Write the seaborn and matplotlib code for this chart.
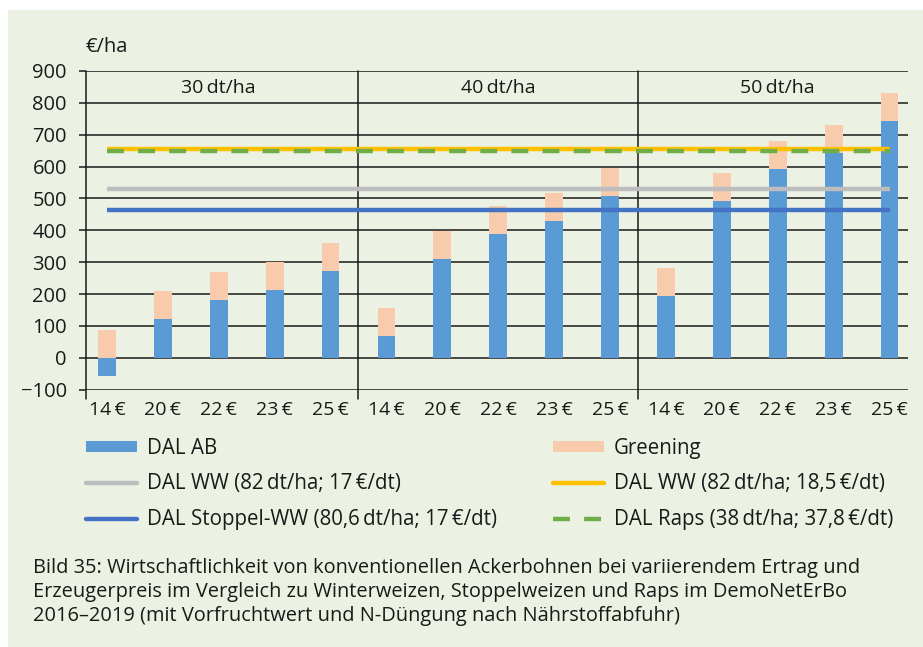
import matplotlib
matplotlib.use("Agg")
import matplotlib.pyplot as plt
import seaborn as sns
import pandas as pd
from matplotlib.patches import Patch, Rectangle
from matplotlib.lines import Line2D

# Werte
ertraege = ["30\u2009dt/ha", "40\u2009dt/ha", "50\u2009dt/ha"]
preise = ["14\u2009€", "20\u2009€", "22\u2009€", "23\u2009€", "25\u2009€"]
dal_ab = [-57, 122, 181, 213, 273,
          68, 310, 389, 430, 508,
          194, 492, 593, 643, 744]
greening = [88, 88, 88, 88, 88,
            88, 88, 88, 88, 88,
            88, 88, 88, 88, 88]
dal_ww_17 = 531
dal_ww_185 = 655
dal_stoppel = 465
dal_raps = 650

bg = "#ECF2E3"
c_ab = "#5B9BD5"
c_green = "#F8CBAD"
c_gray = "#BDBDBD"
c_yellow = "#FFC000"
c_blue = "#4472C4"
c_raps = "#70AD47"
ink = "#1a1a1a"
raps_dash = (0, (3.8, 3.2))

sns.set_theme(style="white")
plt.rcParams["font.family"] = ["Open Sans", "DejaVu Sans"]
plt.rcParams["text.color"] = ink

df = pd.DataFrame({
    "key": [f"{e}|{p}" for e in ertraege for p in preise],
    "preis": [p for e in ertraege for p in preise],
    "dal_ab": dal_ab,
    "greening": greening,
})
df["top"] = df["dal_ab"].clip(lower=0) + df["greening"]

fig = plt.figure(figsize=(9.23, 6.47), dpi=100, facecolor="white")
fig.patches.append(Rectangle((8 / 923, 0), 1, 637 / 647, transform=fig.transFigure,
                             facecolor=bg, edgecolor="none", zorder=-10))

ax = fig.add_axes([85.7 / 923, 257.3 / 647, 822.3 / 923, 318.7 / 647])
ax.patch.set_alpha(0)

# gestapelte Balken: Greening oben drauf, DAL AB darueber gezeichnet
sns.barplot(data=df, x="key", y="top", color=c_green, width=0.32, saturation=1,
            linewidth=0, ax=ax, zorder=2)
sns.barplot(data=df, x="key", y="dal_ab", color=c_ab, width=0.32, saturation=1,
            linewidth=0, ax=ax, zorder=3)

# Vergleichslinien
lw = 3.2
ax.hlines(dal_ww_17, 0, 14, color=c_gray, lw=lw, zorder=4)
ax.hlines(dal_stoppel, 0, 14, color=c_blue, lw=lw, zorder=4)
ax.hlines(dal_ww_185, 0, 14, color=c_yellow, lw=lw, zorder=4)
ax.hlines(dal_raps, 0, 14, color=c_raps, lw=lw, linestyles=raps_dash, zorder=5)

ax.set_xlim(-0.38, 14.33)
ax.set_ylim(-100, 900)
ax.set_yticks(range(-100, 1000, 100))
ax.set_yticklabels(["\u2212100"] + [str(v) for v in range(0, 1000, 100)])
ax.set_xticks(range(15))
ax.set_xticklabels(df["preis"])
ax.set_xlabel("")
ax.set_ylabel("")
for s in ax.spines.values():
    s.set_visible(False)

ax.grid(axis="y", color=ink, lw=1.1, zorder=0)
ax.set_axisbelow(True)
ax.tick_params(axis="y", length=5, width=1.1, color=ink, pad=8.5,
               labelsize=14.5, labelcolor=ink, left=True)
ax.tick_params(axis="x", length=0, pad=8, labelsize=14, labelcolor=ink)

# senkrechte Linien: Achse und Gruppentrenner
for xv in [-0.38, 4.5, 9.5]:
    ax.axvline(xv, ymin=-0.03, ymax=1, color=ink, lw=1.1, clip_on=False, zorder=1)

for i, e in enumerate(ertraege):
    ax.text(2 + 5 * i, 848, e, ha="center", va="center", fontsize=14, color=ink)

fig.text(85 / 923, 1 - 47 / 647, "€/ha", ha="left", va="center", fontsize=14.5)

leg_kw = dict(loc="upper left", frameon=False, fontsize=14.8, handlelength=2.5,
              handleheight=0.4, handletextpad=0.45, labelspacing=0.7,
              borderpad=0, borderaxespad=0)
leg1 = fig.legend(
    [Patch(facecolor=c_ab, edgecolor="none"),
     Line2D([], [], color=c_gray, lw=lw),
     Line2D([], [], color=c_blue, lw=lw)],
    ["DAL AB",
     "DAL WW (82\u2009dt/ha; 17\u2009€/dt)",
     "DAL Stoppel-WW (80,6\u2009dt/ha; 17\u2009€/dt)"],
    bbox_to_anchor=(86 / 923, 1 - 438 / 647), **leg_kw)
leg2 = fig.legend(
    [Patch(facecolor=c_green, edgecolor="none"),
     Line2D([], [], color=c_yellow, lw=lw),
     Line2D([], [], color=c_raps, lw=lw, linestyle=raps_dash)],
    ["Greening",
     "DAL WW (82\u2009dt/ha; 18,5\u2009€/dt)",
     "DAL Raps (38\u2009dt/ha; 37,8\u2009€/dt)"],
    bbox_to_anchor=(553 / 923, 1 - 438 / 647), **leg_kw)

caption = ("Bild 35: Wirtschaftlichkeit von konventionellen Ackerbohnen bei variierendem Ertrag und\n"
           "Erzeugerpreis im Vergleich zu Winterweizen, Stoppelweizen und Raps im DemoNetErBo\n"
           "2016\u20132019 (mit Vorfruchtwert und N-Düngung nach Nährstoffabfuhr)")
fig.text(33 / 923, 1 - 558 / 647, caption, ha="left", va="top", fontsize=14.4,
         linespacing=1.27, color=ink)

fig.savefig("out.png", dpi=100, facecolor="white")
